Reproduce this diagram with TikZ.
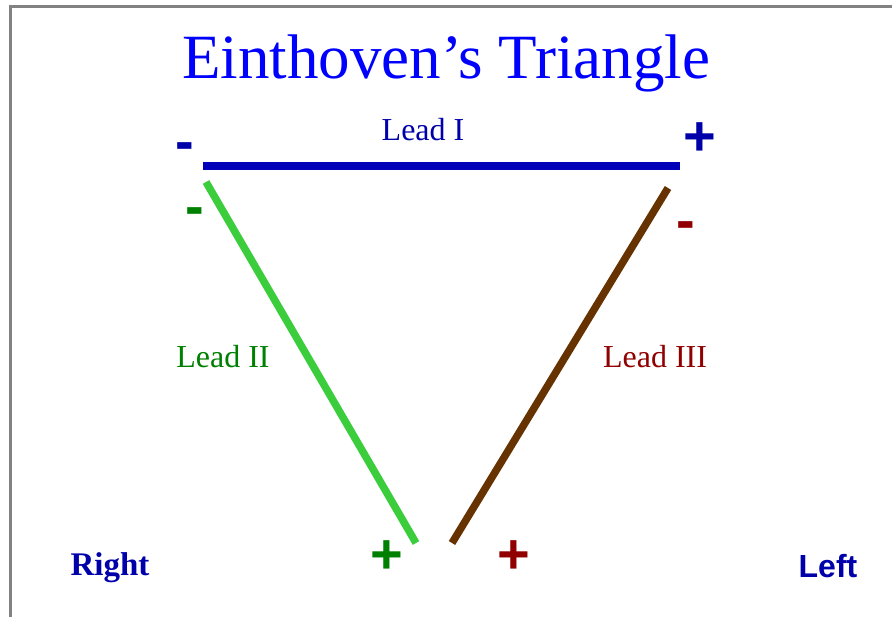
\documentclass[tikz,border=0pt]{standalone}
\usepackage{fontspec}
\setmainfont{Liberation Serif}
\newfontfamily\arialfont{Liberation Sans}
\definecolor{titleblue}{RGB}{0,0,255}
\definecolor{leadblue}{RGB}{0,0,185}
\definecolor{textblue}{RGB}{0,0,170}
\definecolor{darkgreen}{RGB}{0,128,0}
\definecolor{limegreen}{RGB}{60,205,60}
\definecolor{brownline}{RGB}{102,51,0}
\definecolor{darkred}{RGB}{145,0,0}
\definecolor{framegray}{RGB}{130,130,130}
\tikzset{
  lbl/.style={inner sep=0pt, font=\fontsize{32}{36}\selectfont},
  sign/.style={inner sep=0pt, font=\arialfont\bfseries\fontsize{56}{60}\selectfont},
  side/.style={inner sep=0pt, text=textblue},
  leadline/.style={line width=7.5pt}
}
\begin{document}
\begin{tikzpicture}[x=1pt,y=-1pt]
\useasboundingbox (0,0) rectangle (892,617);
\fill[white] (0,0) rectangle (892,617);
\draw[framegray, line width=3pt] (10,617) -- (10,7) -- (892,7);

\node[inner sep=0pt, text=titleblue, font=\fontsize{63}{70}\selectfont] (title) at (446,63) {Einthoven’s Triangle};

\coordinate (IL) at (203,166);
\coordinate (IR) at (680,166);
\coordinate (IIT) at (206,182);
\coordinate (IIB) at (416,543);
\coordinate (IIIT) at (668,188);
\coordinate (IIIB) at (452,543);

\draw[leadline, leadblue] (IL) -- (IR);
\draw[leadline, limegreen] (IIT) -- (IIB);
\draw[leadline, brownline] (IIIT) -- (IIIB);

\node[lbl, text=textblue] (l1) at (423,130) {Lead I};
\node[lbl, text=darkgreen] (l2) at (223,357) {Lead II};
\node[lbl, text=darkred] (l3) at (655,357) {Lead III};

\node[sign, text=textblue] (m1) at (185,152) {-};
\node[sign, text=textblue] (p1) at (700,139) {+};
\node[sign, text=darkgreen] (m2) at (195,217) {-};
\node[sign, text=darkred] (m3) at (686,231) {-};
\node[sign, text=darkgreen] (p2) at (387,557) {+};
\node[sign, text=darkred] (p3) at (514,557) {+};

\node[side, font=\bfseries\fontsize{33}{36}\selectfont] (right) at (110,568) {Right};
\node[side, font=\arialfont\bfseries\fontsize{32}{36}\selectfont] (left) at (828,566) {Left};
\end{tikzpicture}
\end{document}
